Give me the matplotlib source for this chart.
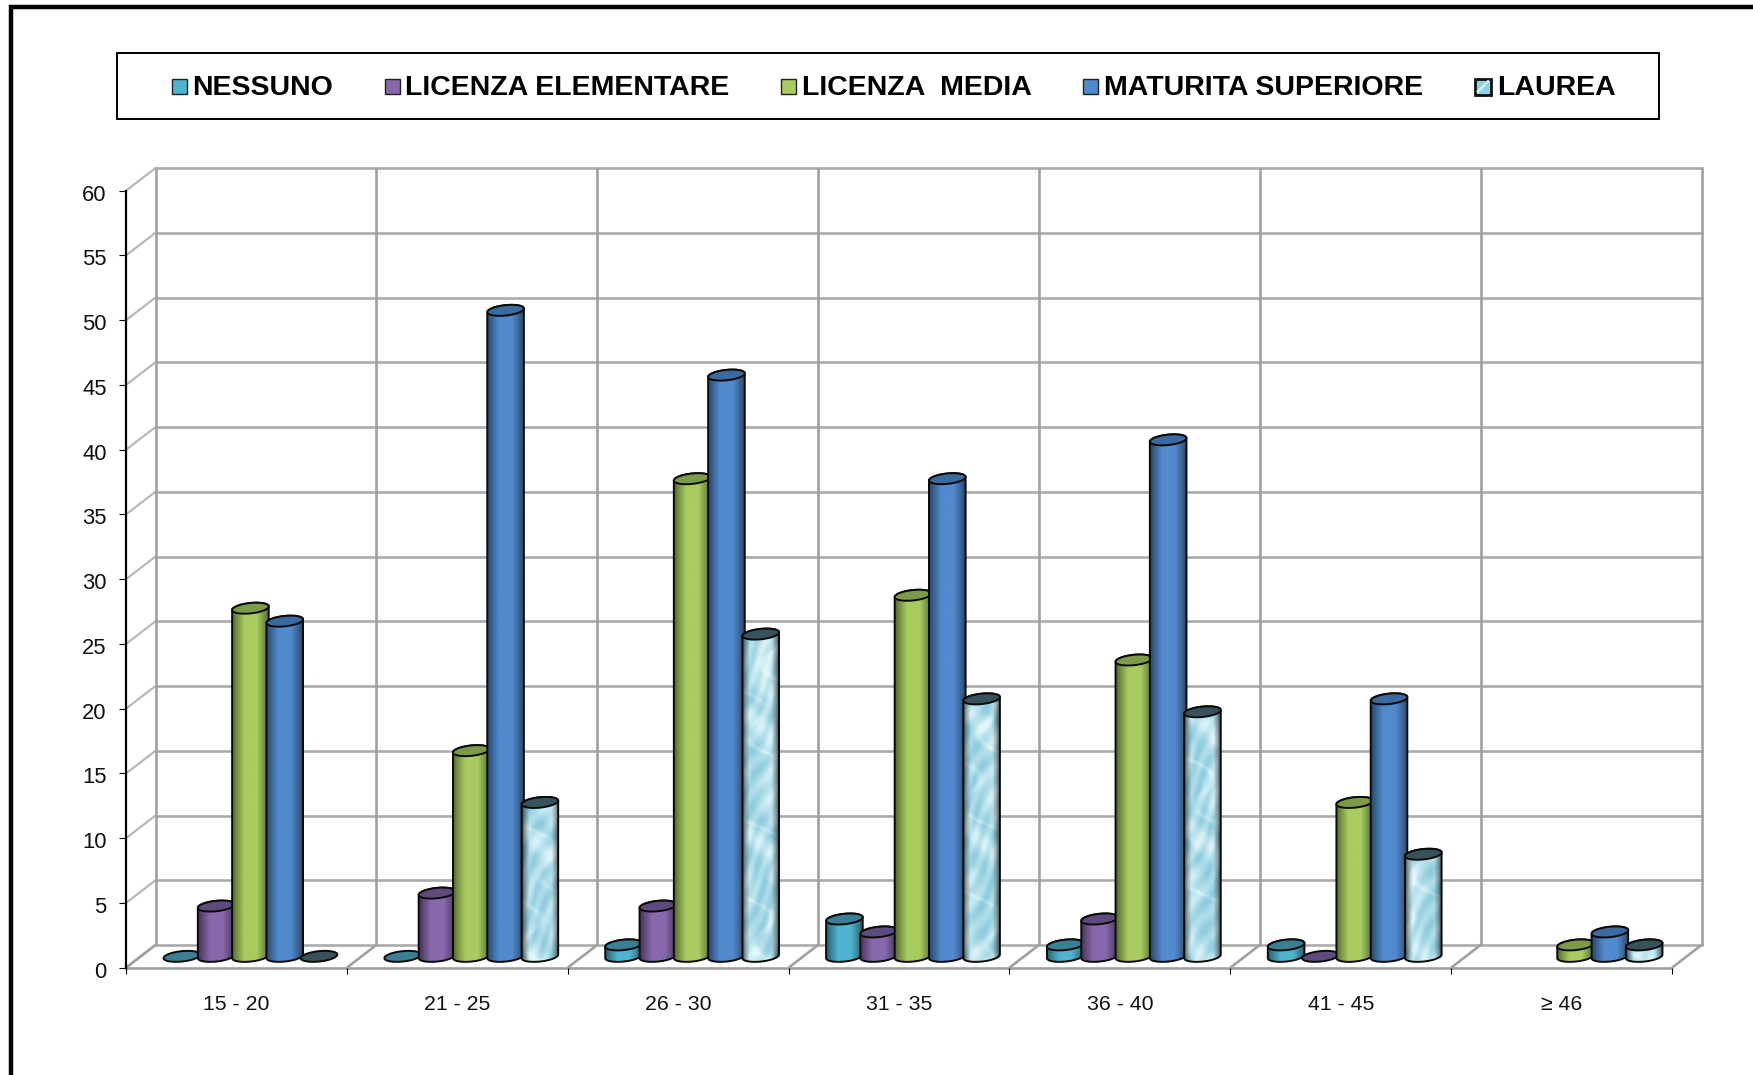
import numpy as np
import matplotlib

matplotlib.use("Agg")
import matplotlib.pyplot as plt
from matplotlib.colors import to_rgb
from matplotlib.patches import Polygon, Rectangle
from matplotlib.transforms import ScaledTranslation

plt.rcParams["font.family"] = ["Liberation Sans", "DejaVu Sans"]

categories = ["15 - 20", "21 - 25", "26 - 30", "31 - 35", "36 - 40", "41 - 45", "≥ 46"]
nessuno = [0, 0, 1, 3, 1, 1, None]
elementare = [4, 5, 4, 2, 3, 0, None]
media = [27, 16, 37, 28, 23, 12, 1]
maturita = [26, 50, 45, 37, 40, 20, 2]
laurea = [0, 12, 25, 20, 19, 8, 1]
y_ticks = list(range(0, 65, 5))

series = [
    ("NESSUNO", nessuno, "#50B4D0", "#3A7F94"),
    ("LICENZA ELEMENTARE", elementare, "#8868AC", "#5E4A7C"),
    ("LICENZA  MEDIA", media, "#A8CC60", "#7C9A48"),
    ("MATURITA SUPERIORE", maturita, "#528ACE", "#3A6A9E"),
    ("LAUREA", laurea, None, "#37525A"),
]
legend_pos = [(172, 192.5), (385, 405.5), (781, 802), (1083, 1104), (1475, 1497.5)]

W, H = 1753, 1075
X0, X1 = 126, 1672          # front edge of the floor, pixels
Y0, Y60 = 967.7, 190.7      # front axis 0 and 60, pixels
PX_X = (X1 - X0) / len(categories)
PX_Y = (Y0 - Y60) / 60
DX = 29.5 / PX_X            # depth of the box in data units
DY = 22.7 / PX_Y
BAR_DX = 14 / PX_X
TOP_DROP = 1.5 / PX_Y
STEP = 34.3 / PX_X
HALF_W = 18.3 / PX_X
ELL_H = 5.2 / PX_Y
TILT = 4.0 / PX_Y           # rise of the ellipse over half its width


def ellipse_pts(cx, cy, start=0.0, stop=2 * np.pi, n=60):
    t = np.linspace(start, stop, n)
    x = cx + HALF_W * np.cos(t)
    y = cy + ELL_H * np.sin(t) + TILT * 0.45 * np.cos(t)
    return np.column_stack([x, y])


def marble(xs, ys):
    # light blue "water" texture of the last series
    a = np.sin(xs * 0.12 + ys * 0.06 + 2.0 * np.sin(ys * 0.05))
    b = np.sin(xs * 0.35 - ys * 0.2 + 1.5 * np.sin(ys * 0.03 + xs * 0.1))
    streak = np.exp(-np.sin(xs * 0.05 + ys * 0.032 + np.sin(ys * 0.09)) ** 2 / 0.05)
    v = np.clip(0.6 + 0.2 * a + 0.14 * b + 0.22 * streak, 0, 1)[..., None]
    lo = np.array(to_rgb("#70BDD4"))
    hi = np.array(to_rgb("#E2F7FB"))
    return lo + (hi - lo) * v


def draw_cylinder(ax, cx, base, value, color, top_color, z):
    top = base + value - TOP_DROP
    if value > 0:
        front = ellipse_pts(cx, base, np.pi, 2 * np.pi)
        outline = np.vstack([front, ellipse_pts(cx, top, 0, np.pi)])
        nx = 40
        ny = max(int((top - base) * PX_Y + 2 * ELL_H * PX_Y) + 12, 4)
        u = np.linspace(-1, 1, nx)
        extent = [cx - HALF_W, cx + HALF_W, base - 2 * ELL_H, top + 2 * ELL_H]
        shade = 0.5 + 0.5 * np.clip((1 - np.abs(u)) / 0.65, 0, 1) ** 0.9
        if color is None:
            xs, ys = np.meshgrid(np.arange(nx), np.arange(ny))
            rgb = marble(xs + cx * 50, ys)
            shade = 0.3 + 0.7 * np.clip((1 - np.abs(u)) / 0.4, 0, 1) ** 0.7
        else:
            rgb = np.ones((ny, nx, 3)) * np.array(to_rgb(color))
        rgb = rgb * shade[None, :, None]
        poly = Polygon(outline, closed=True, facecolor="none", edgecolor="#0A0A0A", lw=1.4, zorder=z + 0.2)
        ax.add_patch(poly)
        im = ax.imshow(rgb, extent=extent, aspect="auto", origin="lower", zorder=z, interpolation="bilinear")
        im.set_clip_path(poly)
    ax.add_patch(Polygon(ellipse_pts(cx, base + value - TOP_DROP * (value > 0)), closed=True,
                         facecolor=top_color, edgecolor="#0A0A0A", lw=1.4, zorder=z + 0.3))


def main():
    fig = plt.figure(figsize=(W / 100, H / 100), dpi=100, facecolor="white")

    # page layer in pixels: outer frame and legend
    page = fig.add_axes([0, 0, 1, 1])
    page.set_xlim(0, W)
    page.set_ylim(H, 0)
    page.axis("off")
    page.plot([11, 11, W], [H, 6.5, 6.5], color="black", lw=3.2, solid_joinstyle="miter")
    page.add_patch(Rectangle((117.5, 53), 1541.5, 66, facecolor="white", edgecolor="black", lw=1.4))
    for (name, _, color, _), (sx, tx) in zip(series, legend_pos):
        if color is None:
            page.add_patch(Rectangle((sx, 78.5), 16, 16, facecolor="#8FD0E2", edgecolor="#111111", lw=2))
            page.plot([sx + 3, sx + 13], [91.5, 81.5], color="#CDEEF6", lw=2)
        else:
            page.add_patch(Rectangle((sx, 79), 15, 15, facecolor=color, edgecolor="#222222", lw=1))
        page.text(tx, 88, name, fontsize=20.5, fontweight="bold", ha="left", va="center", color="black")

    # chart layer in data units
    ax = fig.add_axes([X0 / W, 1 - Y0 / H, (X1 - X0) / W, (Y0 - Y60) / H])
    ax.patch.set_alpha(0)
    for s in ax.spines.values():
        s.set_visible(False)
    n = len(categories)

    grid = dict(color="#A0A0A0", lw=1.9, clip_on=False, zorder=1, solid_capstyle="butt")
    for v in y_ticks:
        ax.plot([DX, n + DX], [v + DY, v + DY], color="#ABABAB", lw=1.9, clip_on=False, zorder=1)
        ax.plot([0, DX], [v, v + DY], color="#B5B5B5", lw=1.5, clip_on=False, zorder=1)
    for i in range(n + 1):
        ax.plot([i + DX, i + DX], [DY, 60 + DY], **grid)
        ax.plot([i, i + DX], [0, DY], **grid)
    ax.plot([0, n], [0, 0], **grid)
    ax.plot([0, 0], [0, 60], color="black", lw=1.6, clip_on=False, zorder=2)

    for k, (_, values, color, top_color) in enumerate(series):
        for i, v in enumerate(values):
            if v is None:
                continue
            cx = i + 0.5 + BAR_DX + (k - 2) * STEP
            draw_cylinder(ax, cx, DY / 2, v, color, top_color, 3 + k)

    ax.set_xlim(0, n)
    ax.set_ylim(0, 60)
    ax.set_xticks(range(n + 1))
    ax.set_xticklabels([])
    ax.set_xticks(np.arange(n) + 0.5, categories, minor=True)
    ax.set_yticks(y_ticks)
    ax.tick_params(axis="x", which="major", length=4.5, width=0.8, color="black")
    ax.tick_params(axis="x", which="minor", length=0, pad=20, labelsize=15.3, labelcolor="#111111")
    ax.tick_params(axis="y", length=5, width=0.8, pad=9, labelsize=15.8, labelcolor="#111111")
    # reference numbers sit a little under their ticks
    shift = ScaledTranslation(0, -2 / 100, fig.dpi_scale_trans)
    for lab in ax.get_yticklabels():
        lab.set_transform(lab.get_transform() + shift)

    fig.savefig("out.png", dpi=100)
    plt.close(fig)


if __name__ == "__main__":
    main()
